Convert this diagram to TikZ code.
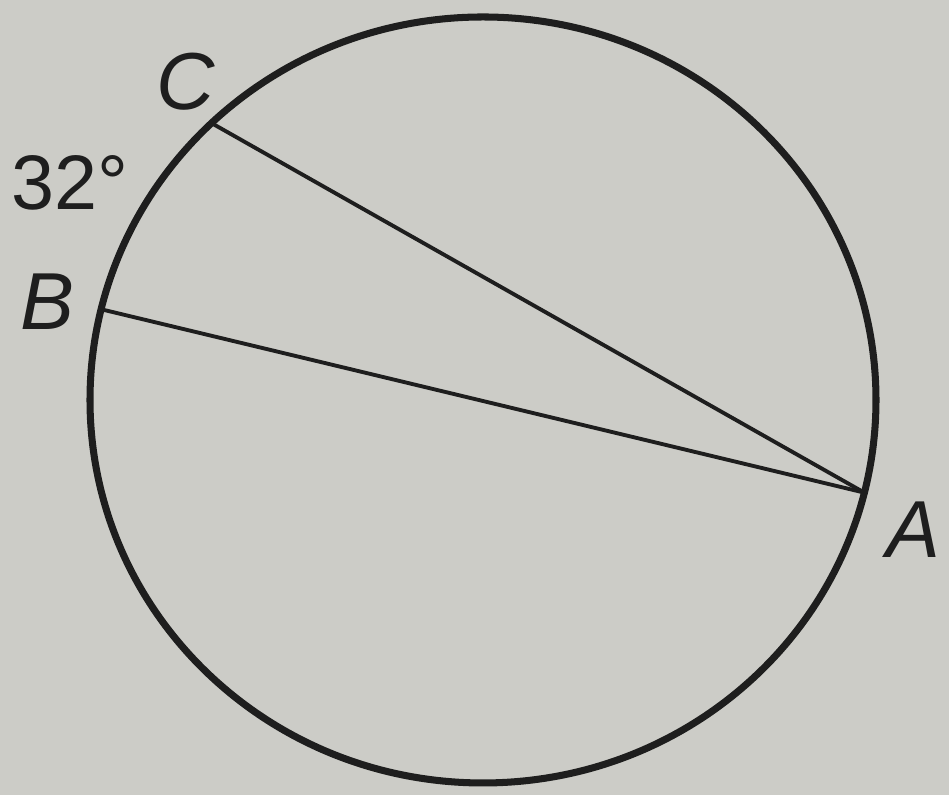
\documentclass[tikz,border=0pt]{standalone}
\usepackage{fontspec}
\setmainfont{Liberation Sans}
\usepackage{xcolor}
\usetikzlibrary{positioning}
\definecolor{paper}{RGB}{204,204,199}
\definecolor{ink}{RGB}{30,30,30}

\begin{document}
\begin{tikzpicture}[
        rim/.style={draw=ink, line width=2pt},
        chord/.style={draw=ink, line width=1.1pt},
        lbl/.style={text=ink, font=\fontsize{23}{26}\selectfont\itshape, inner sep=0pt}
    ]
        \fill[paper] (0,0) rectangle (9.49,7.95);
        \useasboundingbox (0,0) rectangle (9.49,7.95);

        \coordinate (O) at (4.83,3.95);
        \path (O) ++(133.7:3.93 and 3.83) coordinate (C);
        \path (O) ++(166.3:3.93 and 3.83) coordinate (B);
        \path (O) ++(-14:3.93 and 3.83) coordinate (A);

        \draw[rim] (O) ellipse (3.93 and 3.83);
        \draw[chord] (C) -- (A);
        \draw[chord] (B) -- (A);

        \node[lbl] (lc) at (1.86,7.13) {C};
        \node[lbl] (lb) at (0.47,4.93) {B};
        \node[lbl] (la) at (9.13,2.65) {A};
        \node[lbl, font=\fontsize{22}{26}\selectfont] (arc) at (0.70,6.12) {32\textdegree};
    \end{tikzpicture}
\end{document}
